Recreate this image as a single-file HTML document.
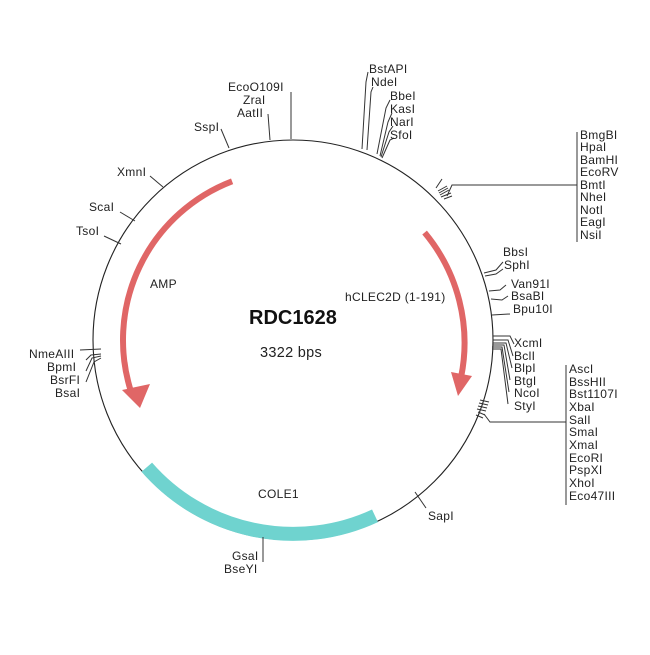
<!DOCTYPE html>
<html><head><meta charset="utf-8"><style>
html,body{margin:0;padding:0;background:#fff;}
svg text{font-family:"Liberation Sans",Arial,sans-serif;font-size:12px;letter-spacing:0.3px;fill:#222;}
</style></head><body>
<svg width="650" height="650" viewBox="0 0 650 650" xmlns="http://www.w3.org/2000/svg">
<rect width="650" height="650" fill="#fff"/>
<circle cx="293" cy="340" r="200" fill="none" stroke="#222" stroke-width="1.1"/>
<path d="M232.1,181.3 A170,170 0 0 0 131.3,392.5" fill="none" stroke="#e06666" stroke-width="6"/>
<polygon points="122,390 150,384 140,408" fill="#e06666"/>
<path d="M424.6,232.6 A172,172 0 0 1 461.1,377" fill="none" stroke="#e06666" stroke-width="6"/>
<polygon points="451,372 472,376 458,396" fill="#e06666"/>
<path d="M146.8,467.2 A194,194 0 0 0 375,515.8" fill="none" stroke="#6fd3cf" stroke-width="14"/>
<g stroke="#333" stroke-width="1" fill="none">
<line x1="229" y1="148" x2="221" y2="129"/>
<line x1="270" y1="140" x2="268" y2="114"/>
<line x1="291" y1="139" x2="291" y2="92"/>
<polyline points="362,149 366,82 368,72"/>
<polyline points="367,150 371,92 373,87"/>
<polyline points="377,154 386,108 390,100"/>
<polyline points="380,156 388,122 392,113"/>
<polyline points="381,157 389,132 393,126"/>
<polyline points="382,158 390,140 394,138"/>
<polyline points="447,196 452,185 577,185"/>
<line x1="577" y1="132" x2="577" y2="242"/>
<line x1="436" y1="188" x2="442" y2="179"/>
<line x1="438" y1="191" x2="447" y2="186"/>
<line x1="439" y1="193" x2="448" y2="188"/>
<line x1="440" y1="195" x2="449" y2="190"/>
<line x1="441" y1="197" x2="451" y2="193"/>
<line x1="444" y1="199" x2="452" y2="196"/>
<polyline points="484,273 496,270 503,262"/>
<polyline points="485,276 496,274 503,269"/>
<polyline points="489,291 500,290 506,285"/>
<polyline points="491,299 502,300 508,296"/>
<line x1="492" y1="315" x2="510" y2="314"/>
<polyline points="493,336 510,336 514,344"/>
<polyline points="493,340 508,340 513,356"/>
<polyline points="493,343 506,343 512,368"/>
<polyline points="493,345 504,345 510,380"/>
<polyline points="492,347 502,347 509,392"/>
<polyline points="492,349 501,349 508,404"/>
<polyline points="484,414 490,422 566,422"/>
<line x1="566" y1="365" x2="566" y2="505"/>
<line x1="477" y1="409" x2="486" y2="411"/>
<line x1="478" y1="406" x2="487" y2="408"/>
<line x1="479" y1="403" x2="488" y2="405"/>
<line x1="480" y1="400" x2="489" y2="402"/>
<line x1="478" y1="412" x2="485" y2="415"/>
<line x1="476" y1="415" x2="483" y2="418"/>
<line x1="415" y1="492" x2="426" y2="508"/>
<line x1="263" y1="537" x2="263" y2="562"/>
<line x1="163" y1="187" x2="150" y2="176"/>
<line x1="135" y1="221" x2="120" y2="212"/>
<line x1="121" y1="244" x2="104" y2="236"/>
<line x1="101" y1="349" x2="80" y2="350"/>
<polyline points="101,354 91,355 86,360"/>
<polyline points="101,356 92,358 86,371"/>
<polyline points="101,358 94,362 86,382"/>
</g>
<text x="369" y="73">BstAPI</text>
<text x="371" y="86">NdeI</text>
<text x="390" y="100">BbeI</text>
<text x="390" y="113">KasI</text>
<text x="390" y="126">NarI</text>
<text x="390" y="139">SfoI</text>
<text x="228" y="91">EcoO109I</text>
<text x="243" y="104">ZraI</text>
<text x="237" y="117">AatII</text>
<text x="194" y="131">SspI</text>
<text x="117" y="176">XmnI</text>
<text x="89" y="211">ScaI</text>
<text x="76" y="235">TsoI</text>
<text x="29" y="358">NmeAIII</text>
<text x="47" y="371">BpmI</text>
<text x="50" y="384">BsrFI</text>
<text x="55" y="397">BsaI</text>
<text x="580" y="139">BmgBI</text>
<text x="580" y="151">HpaI</text>
<text x="580" y="164">BamHI</text>
<text x="580" y="176">EcoRV</text>
<text x="580" y="189">BmtI</text>
<text x="580" y="201">NheI</text>
<text x="580" y="214">NotI</text>
<text x="580" y="226">EagI</text>
<text x="580" y="239">NsiI</text>
<text x="503" y="256">BbsI</text>
<text x="504" y="269">SphI</text>
<text x="511" y="288">Van91I</text>
<text x="511" y="300">BsaBI</text>
<text x="513" y="313">Bpu10I</text>
<text x="514" y="347">XcmI</text>
<text x="514" y="360">BclI</text>
<text x="514" y="372">BlpI</text>
<text x="514" y="385">BtgI</text>
<text x="514" y="397">NcoI</text>
<text x="514" y="410">StyI</text>
<text x="569" y="373">AscI</text>
<text x="569" y="386">BssHII</text>
<text x="569" y="398">Bst1107I</text>
<text x="569" y="411">XbaI</text>
<text x="569" y="424">SalI</text>
<text x="569" y="436">SmaI</text>
<text x="569" y="449">XmaI</text>
<text x="569" y="462">EcoRI</text>
<text x="569" y="474">PspXI</text>
<text x="569" y="487">XhoI</text>
<text x="569" y="500">Eco47III</text>
<text x="428" y="520">SapI</text>
<text x="232" y="560">GsaI</text>
<text x="224" y="573">BseYI</text>
<text x="150" y="288">AMP</text>
<text x="345" y="301">hCLEC2D (1-191)</text>
<text x="258" y="498">COLE1</text>
<text x="249" y="324" style="font-size:20px;font-weight:bold;fill:#111;letter-spacing:0">RDC1628</text>
<text x="260" y="357" style="font-size:14.5px;letter-spacing:0.3px">3322 bps</text>
</svg>
</body></html>
